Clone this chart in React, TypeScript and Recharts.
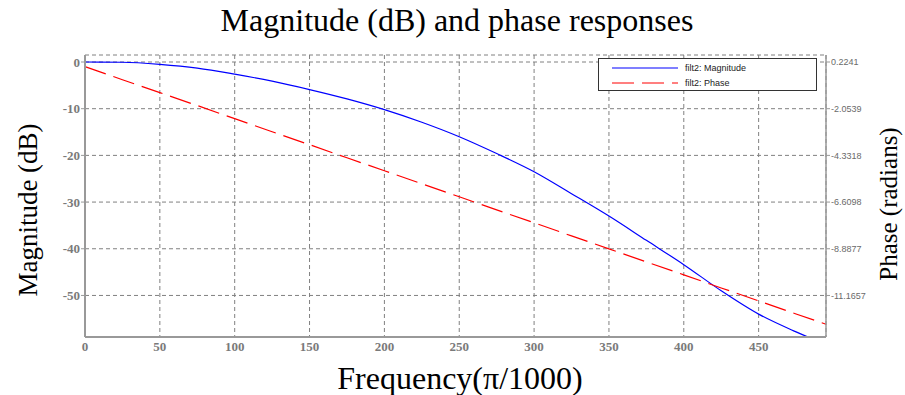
import React from 'react';
import { ComposedChart, Line, XAxis, YAxis, CartesianGrid } from 'recharts';

const frequencies = [0, 25, 50, 75, 100, 125, 150, 175, 200, 225, 250, 275, 300, 325, 350, 375, 400, 425, 450, 475, 495];
const magnitudeDb = [0, -0.05, -0.5, -1.3, -2.6, -4.1, -5.9, -7.9, -10.2, -12.9, -16.0, -19.6, -23.5, -28.2, -33.0, -38.2, -43.4, -49.0, -54.0, -57.8, -60.5];
const phaseRad = [0, -0.64, -1.27, -1.9, -2.54, -3.18, -3.81, -4.45, -5.08, -5.72, -6.35, -6.99, -7.62, -8.26, -8.89, -9.53, -10.16, -10.8, -11.43, -12.07, -12.57];

const xTicks = [0, 50, 100, 150, 200, 250, 300, 350, 400, 450];
const magTicks = [0, -10, -20, -30, -40, -50];
const phaseTicks = [0.2241, -2.0539, -4.3318, -6.6098, -8.8877, -11.1657];

const magDomain: [number, number] = [-58.9, 1.5];
const phaseScale = 0.22779;
const phaseOffset = 0.2241;
const phaseDomain: [number, number] = [phaseOffset + magDomain[0] * phaseScale, phaseOffset + magDomain[1] * phaseScale];

const data = frequencies.map((f, i) => ({ f, mag: magnitudeDb[i], phase: phaseRad[i] }));

const serif = "'Liberation Serif', 'Times New Roman', serif";
const sans = "'Liberation Sans', Arial, sans-serif";
const gray = '#808080';

export default function App() {
  return (
    <div style={{ position: 'absolute', left: 0, top: 0, width: 905, height: 395, background: '#fff' }}>
      <ComposedChart width={905} height={395} data={data} margin={{ top: 55, right: 0, bottom: 0, left: 0 }}>
        <CartesianGrid stroke={gray} strokeDasharray="4 3" strokeWidth={1} />
        <XAxis
          dataKey="f"
          type="number"
          domain={[0, 495]}
          ticks={xTicks}
          height={58}
          tickSize={4}
          tickMargin={1}
          tickLine={false}
          axisLine={{ stroke: '#999', strokeWidth: 2 }}
          tick={{ fill: '#7a7a7a', fontFamily: serif, fontWeight: 'bold', fontSize: 13 }}
        />
        <XAxis
          xAxisId="top"
          orientation="top"
          dataKey="f"
          type="number"
          domain={[0, 495]}
          height={0}
          tick={false}
          tickLine={false}
          axisLine={{ stroke: '#999', strokeWidth: 1.5 }}
        />
        <YAxis
          yAxisId={0}
          type="number"
          domain={magDomain}
          ticks={magTicks}
          allowDataOverflow
          width={85}
          tickSize={4}
          tickMargin={1}
          tickLine={{ stroke: '#999' }}
          axisLine={{ stroke: '#999', strokeWidth: 2 }}
          tick={{ fill: '#7a7a7a', fontFamily: serif, fontWeight: 'bold', fontSize: 13 }}
        />
        <YAxis
          yAxisId="right"
          orientation="right"
          type="number"
          domain={phaseDomain}
          ticks={phaseTicks}
          allowDataOverflow
          width={79}
          tickSize={4}
          tickMargin={1}
          tickFormatter={(v: number) => v.toFixed(4)}
          tickLine={{ stroke: '#999' }}
          axisLine={{ stroke: '#999', strokeWidth: 1.5 }}
          tick={{ fill: '#6a6a6a', fontFamily: sans, fontSize: 9 }}
        />
        <Line
          yAxisId={0}
          dataKey="mag"
          type="monotone"
          stroke="#0000ff"
          strokeWidth={1.2}
          dot={false}
          isAnimationActive={false}
        />
        <Line
          yAxisId="right"
          dataKey="phase"
          type="linear"
          stroke="#ff0000"
          strokeWidth={1.2}
          strokeDasharray="22 8"
          dot={false}
          isAnimationActive={false}
        />
      </ComposedChart>
      <svg width={905} height={395} style={{ position: 'absolute', left: 0, top: 0, pointerEvents: 'none' }}>
        <text x={457} y={31} textAnchor="middle" fontFamily={serif} fontSize={32} fill="#000">
          Magnitude (dB) and phase responses
        </text>
        <text x={460} y={389} textAnchor="middle" fontFamily={serif} fontSize={32} fill="#000">
          Frequency(π/1000)
        </text>
        <text
          x={28}
          y={210}
          textAnchor="middle"
          dominantBaseline="central"
          transform="rotate(-90 28 210)"
          fontFamily={serif}
          fontSize={27}
          fill="#000"
        >
          Magnitude (dB)
        </text>
        <text
          x={888}
          y={204}
          textAnchor="middle"
          dominantBaseline="central"
          transform="rotate(-90 888 204)"
          fontFamily={serif}
          fontSize={25}
          fill="#000"
        >
          Phase (radians)
        </text>
        <g>
          <rect x={598.5} y={58.5} width={218} height={32} fill="#fff" stroke="#333" strokeWidth={1} />
          <line x1={612} y1={68} x2={678} y2={68} stroke="#0000ff" strokeWidth={1.2} />
          <text x={685} y={71} fontFamily={sans} fontSize={9} fill="#222">filt2: Magnitude</text>
          <line x1={612} y1={83} x2={678} y2={83} stroke="#ff0000" strokeWidth={1.2} strokeDasharray="22 8" />
          <text x={685} y={86} fontFamily={sans} fontSize={9} fill="#222">filt2: Phase</text>
        </g>
      </svg>
    </div>
  );
}
